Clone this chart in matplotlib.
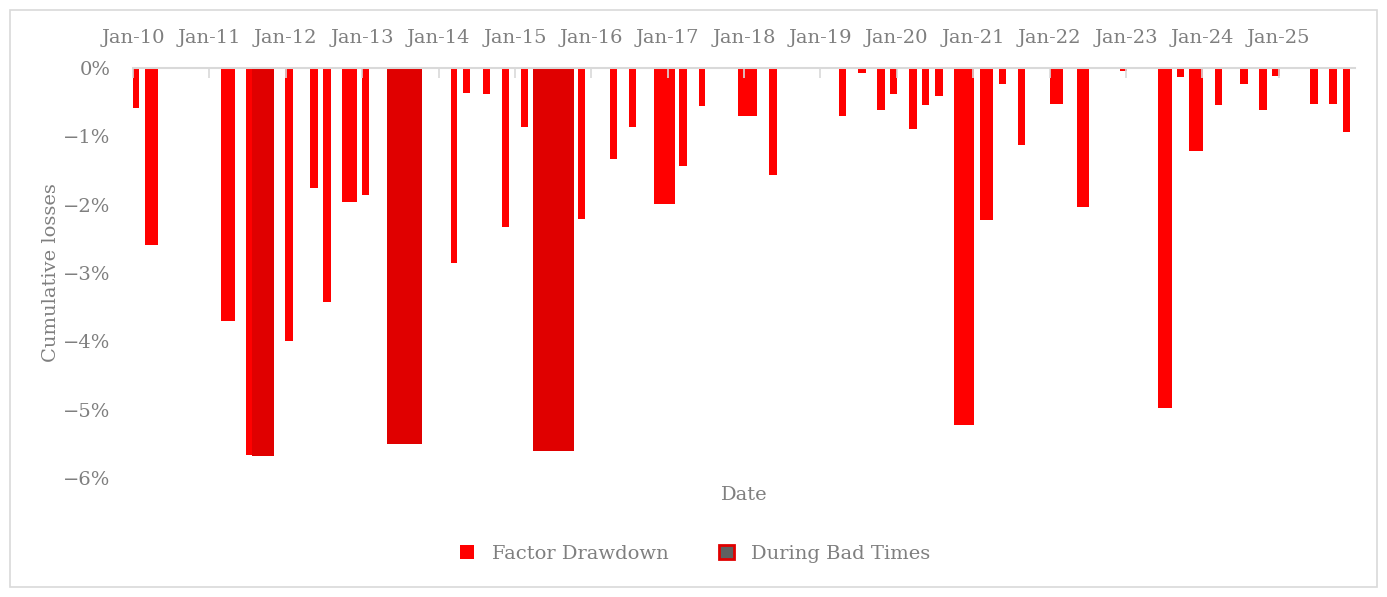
import matplotlib
matplotlib.use("Agg")
import matplotlib.pyplot as plt
import matplotlib.dates as mdates
from matplotlib.patches import Patch, Rectangle
from matplotlib.ticker import FuncFormatter
import pandas as pd

# ---- data ----
factor_start = ["2010-01-01", "2010-02-26", "2010-11-27", "2011-02-26", "2011-06-27",
                "2011-12-30", "2012-04-27", "2012-06-29", "2012-09-27", "2012-12-29",
                "2014-02-28", "2014-04-30", "2014-07-31", "2014-10-31", "2015-01-30",
                "2015-10-30", "2016-03-29", "2016-06-28", "2016-10-29", "2017-02-26",
                "2017-05-29", "2017-12-02", "2018-05-01", "2019-03-30", "2019-06-29",
                "2019-09-30", "2019-12-01", "2020-03-01", "2020-05-02", "2020-06-30",
                "2020-09-29", "2021-02-01", "2021-05-04", "2021-08-02", "2022-01-03",
                "2022-05-10", "2022-12-02", "2023-06-04", "2023-08-31", "2023-10-31",
                "2024-03-02", "2024-06-29", "2024-09-30", "2024-12-01", "2025-06-01",
                "2025-08-31", "2025-11-03"]
factor_end = ["2010-01-30", "2010-05-02", "2010-12-26", "2011-05-03", "2011-07-25",
              "2012-02-04", "2012-06-05", "2012-08-06", "2012-12-05", "2013-02-04",
              "2014-04-01", "2014-06-02", "2014-09-02", "2014-12-03", "2015-03-06",
              "2015-12-04", "2016-05-03", "2016-08-02", "2017-02-05", "2017-04-04",
              "2017-06-27", "2018-03-03", "2018-06-05", "2019-05-05", "2019-08-05",
              "2019-11-04", "2020-01-04", "2020-04-05", "2020-06-03", "2020-08-08",
              "2021-01-03", "2021-04-04", "2021-06-05", "2021-09-06", "2022-03-04",
              "2022-07-06", "2023-01-05", "2023-08-07", "2023-10-05", "2024-01-04",
              "2024-04-04", "2024-08-07", "2024-11-07", "2025-01-04", "2025-07-06",
              "2025-10-07", "2025-12-05"]
factor_loss = [-0.58, -2.59, -0.02, -3.70, -5.66,
               -4.00, -1.76, -3.43, -1.96, -1.86,
               -2.86, -0.37, -0.38, -2.33, -0.86,
               -2.21, -1.33, -0.87, -1.99, -1.43,
               -0.56, -0.70, -1.57, -0.70, -0.08,
               -0.61, -0.38, -0.89, -0.54, -0.41,
               -5.23, -2.23, -0.23, -1.13, -0.52,
               -2.04, -0.05, -4.97, -0.13, -1.22,
               -0.54, -0.23, -0.61, -0.11, -0.52,
               -0.52, -0.94]

bad_start = ["2011-07-25", "2013-04-28", "2015-03-28"]
bad_end = ["2011-11-04", "2013-10-12", "2015-10-09"]
bad_loss = [-5.68, -5.50, -5.61]

series_names = ["Factor Drawdown", "During Bad Times"]
y_ticks = [0, -1, -2, -3, -4, -5, -6]

# ---- style ----
TEXT = "#7f7f7f"
RED = "#ff0000"
DARK = "#e00000"
FONT = "DejaVu Serif"
FS = 14
plt.rcParams["font.family"] = [FONT, "DejaVu Sans"]

fig = plt.figure(figsize=(13.87, 5.97), dpi=100)
fig.patches.append(Rectangle((10 / 1387, 10 / 597), 1367 / 1387, 577 / 597,
                             transform=fig.transFigure, fill=False,
                             edgecolor="#d9d9d9", linewidth=1.2))
ax = fig.add_axes([133 / 1387, 1 - 478 / 597, 1222 / 1387, 410 / 597])


def to_num(lst):
    return mdates.date2num(pd.to_datetime(lst))


fs, fe = to_num(factor_start), to_num(factor_end)
bs, be = to_num(bad_start), to_num(bad_end)

ax.bar(fs, factor_loss, width=fe - fs, align="edge", color=RED, linewidth=0)
ax.bar(bs, bad_loss, width=be - bs, align="edge", color=DARK, linewidth=0)

ax.set_xlim(mdates.date2num(pd.Timestamp("2010-01-01")),
            mdates.date2num(pd.Timestamp("2025-12-31")))
ax.set_ylim(-6, 0)

ax.xaxis.set_major_locator(mdates.YearLocator())
ax.xaxis.set_major_formatter(mdates.DateFormatter("%b-%y"))
ax.xaxis.tick_top()
ax.tick_params(axis="x", direction="in", length=7, width=1.2, color="#d9d9d9",
               labelcolor=TEXT, labelsize=FS, pad=15)

ax.set_yticks(y_ticks)
ax.yaxis.set_major_formatter(FuncFormatter(
    lambda v, p: f"{int(round(v))}%".replace("-", "\u2212")))
ax.tick_params(axis="y", length=0, labelcolor=TEXT, labelsize=FS, pad=16)

for s in ["left", "right", "bottom"]:
    ax.spines[s].set_visible(False)
ax.spines["top"].set_color("#d9d9d9")
ax.spines["top"].set_linewidth(1.5)

ax.set_xlabel("Date", color=TEXT, fontsize=FS)
ax.xaxis.set_label_position("bottom")
ax.xaxis.set_label_coords(0.5, (478 - 495) / 410)
ax.xaxis.label.set_va("center")
ax.set_ylabel("Cumulative losses", color=TEXT, fontsize=FS)
ax.yaxis.set_label_coords((51 - 133) / 1222, 0.5)
ax.yaxis.label.set_va("center")

handles = [Patch(facecolor=RED, edgecolor=RED, linewidth=0),
           Patch(facecolor="#606060", edgecolor=DARK, linewidth=2)]
leg = fig.legend(handles, series_names, loc="center", ncol=2, frameon=False,
                 bbox_to_anchor=(695 / 1387, 1 - 554 / 597),
                 handlelength=0.75, handleheight=0.75, handletextpad=0.9,
                 columnspacing=2.6, fontsize=FS)
for t in leg.get_texts():
    t.set_color(TEXT)

fig.savefig("out.png", dpi=100)
